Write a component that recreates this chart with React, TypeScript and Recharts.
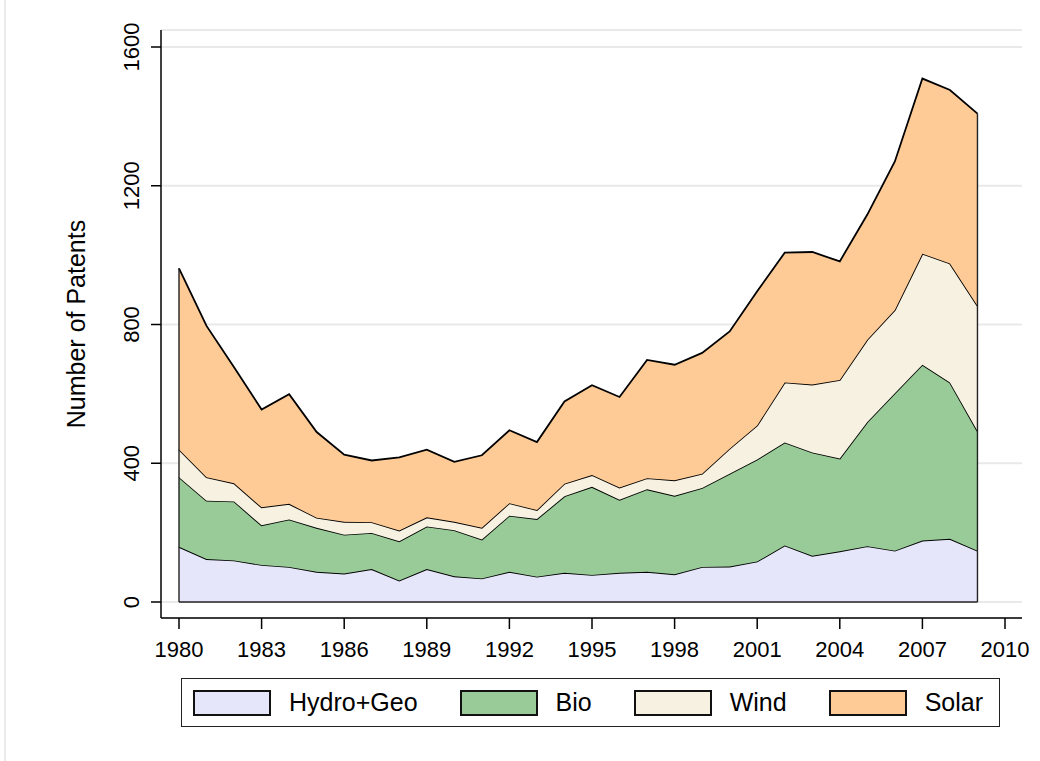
import React from "react";
import {
  Area,
  AreaChart,
  CartesianGrid,
  Label,
  ReferenceLine,
  XAxis,
  YAxis,
} from "recharts";

const years = [
  1980, 1981, 1982, 1983, 1984, 1985, 1986, 1987, 1988, 1989, 1990, 1991, 1992, 1993, 1994,
  1995, 1996, 1997, 1998, 1999, 2000, 2001, 2002, 2003, 2004, 2005, 2006, 2007, 2008, 2009,
];
const hydroGeo = [
  159, 124, 120, 107, 101, 87, 82, 95, 62, 95, 74, 68, 87, 73, 84,
  78, 84, 87, 80, 101, 102, 117, 163, 133, 146, 161, 148, 177, 182, 148,
];
const bio = [
  201, 168, 170, 114, 137, 127, 112, 104, 113, 123, 133, 112, 162, 166, 221,
  254, 211, 238, 226, 228, 268, 294, 297, 298, 268, 358, 454, 507, 451, 345,
];
const wind = [
  80, 68, 52, 52, 45, 29, 37, 31, 31, 26, 24, 34, 36, 26, 36,
  34, 35, 32, 45, 41, 72, 98, 173, 196, 226, 237, 240, 320, 343, 361,
];
const solar = [
  522, 436, 335, 282, 316, 247, 194, 178, 211, 195, 173, 209, 210, 196, 237,
  259, 261, 341, 333, 348, 338, 387, 374, 382, 342, 361, 428, 505, 500, 554,
];

const xTicks = [1980, 1983, 1986, 1989, 1992, 1995, 1998, 2001, 2004, 2007, 2010];
const yTicks = [0, 400, 800, 1200, 1600];

const series = [
  { key: "hydro", name: "Hydro+Geo", values: hydroGeo, fill: "#e6e6fa" },
  { key: "bio", name: "Bio", values: bio, fill: "#99cb98" },
  { key: "wind", name: "Wind", values: wind, fill: "#f6f1e1" },
  { key: "solar", name: "Solar", values: solar, fill: "#fecb97" },
];

const data = years.map((year, i) => {
  const row: Record<string, number> = { year };
  for (const s of series) row[s.key] = s.values[i];
  return row;
});

const totals = years.map((_, i) => series.reduce((sum, s) => sum + s.values[i], 0));
const firstYear = years[0];
const lastYear = years[years.length - 1];

const FONT = "'Liberation Sans', Arial, Helvetica, sans-serif";

function XTick({ x, y, payload }: any) {
  return (
    <text x={x} y={y + 26} textAnchor="middle" fontSize={22} fontFamily={FONT} fill="#000">
      {payload.value}
    </text>
  );
}

function YTick({ x, y, payload }: any) {
  const tx = x - 10;
  return (
    <text
      x={tx}
      y={y}
      transform={`rotate(-90, ${tx}, ${y})`}
      textAnchor="middle"
      fontSize={22}
      fontFamily={FONT}
      fill="#000"
    >
      {payload.value}
    </text>
  );
}

function YTitle({ viewBox }: any) {
  const tx = viewBox.x + 85;
  const ty = viewBox.y + viewBox.height / 2;
  return (
    <text
      x={tx}
      y={ty}
      transform={`rotate(-90, ${tx}, ${ty})`}
      textAnchor="middle"
      fontSize={25}
      fontFamily={FONT}
      fill="#000"
    >
      Number of Patents
    </text>
  );
}

function ChartLegend() {
  return (
    <div
      style={{
        position: "absolute",
        left: 181,
        top: 678,
        width: 819,
        height: 49,
        boxSizing: "border-box",
        border: "1.5px solid #222",
        display: "flex",
        alignItems: "center",
        paddingLeft: 11,
        gap: 42,
        fontFamily: FONT,
        fontSize: 25,
        color: "#000",
      }}
    >
      {series.map((s) => (
        <div key={s.key} style={{ display: "flex", alignItems: "center", gap: 18 }}>
          <div
            style={{
              width: 78,
              height: 26,
              boxSizing: "border-box",
              background: s.fill,
              border: "2px solid #111",
            }}
          />
          <span>{s.name}</span>
        </div>
      ))}
    </div>
  );
}

export default function App() {
  return (
    <div
      style={{
        position: "absolute",
        left: 0,
        top: 0,
        width: 1040,
        height: 761,
        background: "#fff",
        overflow: "hidden",
      }}
    >
      <div
        style={{ position: "absolute", left: 4, top: 0, width: 2, height: 761, background: "#ebebeb" }}
      />
      <AreaChart
        width={1040}
        height={761}
        data={data}
        margin={{ top: 30, right: 18, left: 0, bottom: 103 }}
      >
        <CartesianGrid vertical={false} stroke="#e9e9e9" strokeWidth={2} />
        <XAxis
          dataKey="year"
          type="number"
          domain={[1980, 2010]}
          ticks={xTicks}
          interval={0}
          padding={{ left: 18, right: 17 }}
          height={40}
          tickSize={11}
          tick={<XTick />}
          axisLine={{ stroke: "#000", strokeWidth: 1.5 }}
          tickLine={{ stroke: "#000", strokeWidth: 1.5 }}
        />
        <YAxis
          type="number"
          domain={[0, 1600]}
          ticks={yTicks}
          interval={0}
          padding={{ top: 17, bottom: 16 }}
          width={161}
          tickSize={10}
          tick={<YTick />}
          axisLine={{ stroke: "#000", strokeWidth: 1.5 }}
          tickLine={{ stroke: "#000", strokeWidth: 1.5 }}
        >
          <Label content={<YTitle />} />
        </YAxis>
        {series.map((s) => (
          <Area
            key={s.key}
            type="linear"
            dataKey={s.key}
            name={s.name}
            stackId="1"
            fill={s.fill}
            fillOpacity={1}
            stroke="#000"
            strokeWidth={1.8}
            isAnimationActive={false}
          />
        ))}
        <ReferenceLine
          segment={[{ x: firstYear, y: 0 }, { x: lastYear, y: 0 }]}
          stroke="#222"
          strokeWidth={1.4}
        />
        <ReferenceLine
          segment={[{ x: firstYear, y: 0 }, { x: firstYear, y: totals[0] }]}
          stroke="#222"
          strokeWidth={1.4}
        />
        <ReferenceLine
          segment={[{ x: lastYear, y: 0 }, { x: lastYear, y: totals[totals.length - 1] }]}
          stroke="#222"
          strokeWidth={1.4}
        />
      </AreaChart>
      <ChartLegend />
    </div>
  );
}
